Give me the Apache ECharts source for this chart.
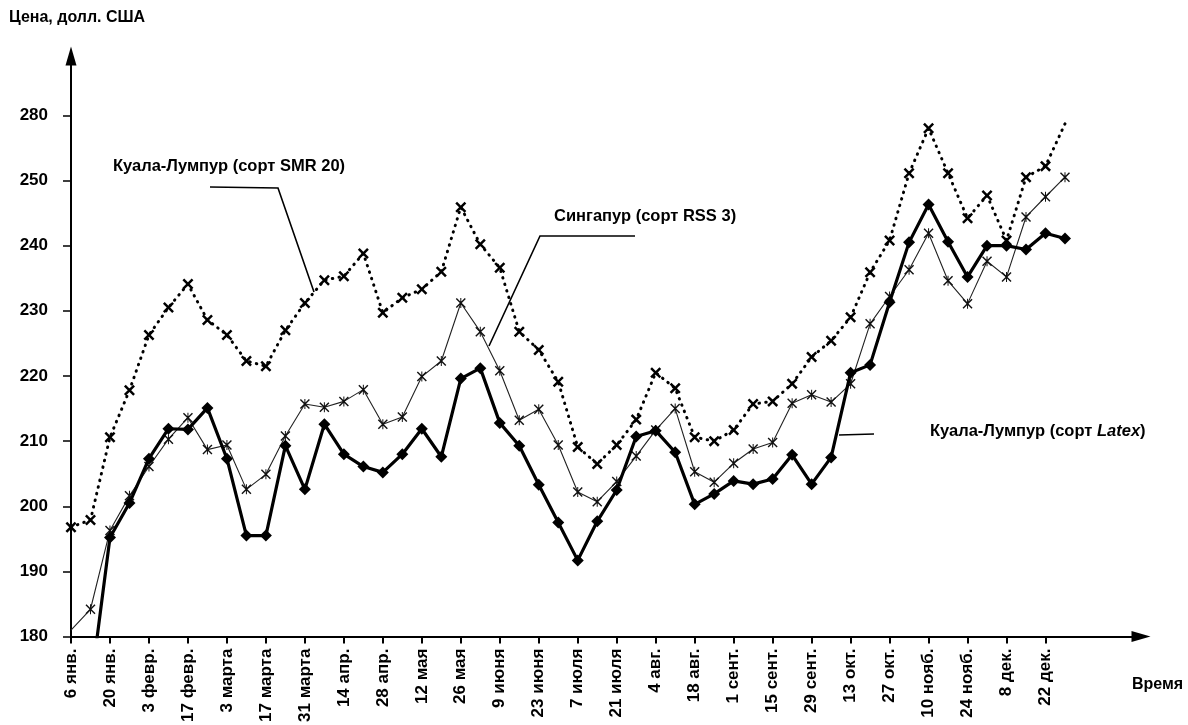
<!DOCTYPE html>
<html>
<head>
<meta charset="utf-8">
<script src="https://cdn.jsdelivr.net/npm/echarts@6/dist/echarts.min.js"></script>
<style>
html,body{margin:0;padding:0;background:#fff;}
#chart{width:1188px;height:725px;}
</style>
</head>
<body>
<div id="chart"></div>
<script>
// Weekly dates (every second one is labelled on the axis)
const weeks = ['6 янв.','13 янв.','20 янв.','27 янв.','3 февр.','10 февр.','17 февр.','24 февр.',
  '3 марта','10 марта','17 марта','24 марта','31 марта','7 апр.','14 апр.','21 апр.','28 апр.',
  '5 мая','12 мая','19 мая','26 мая','2 июня','9 июня','16 июня','23 июня','30 июня',
  '7 июля','14 июля','21 июля','28 июля','4 авг.','11 авг.','18 авг.','25 авг.',
  '1 сент.','8 сент.','15 сент.','22 сент.','29 сент.','6 окт.','13 окт.','20 окт.','27 окт.',
  '3 нояб.','10 нояб.','17 нояб.','24 нояб.','1 дек.','8 дек.','15 дек.','22 дек.','29 дек.'];

// Куала-Лумпур (сорт SMR 20)
const smr20 = [196.8,197.9,210.6,217.8,226.3,230.5,234.1,228.6,226.3,222.3,221.5,227.0,231.2,234.7,235.3,238.8,
  229.7,232.0,233.3,236.0,245.9,240.2,236.6,226.8,224.0,219.1,209.1,206.5,209.4,213.3,220.5,218.1,
  210.6,210.0,211.7,215.7,216.1,218.8,222.9,225.4,229.0,235.9,240.8,251.1,258.0,251.1,244.2,247.7,
  240.8,250.5,252.2,258.7];

// Сингапур (сорт RSS 3)
const rss3 = [181.0,184.2,196.3,201.6,206.1,210.3,213.6,208.7,209.4,202.6,204.9,210.8,215.7,215.2,216.1,217.9,
  212.6,213.7,219.9,222.3,231.2,226.8,220.8,213.2,214.9,209.4,202.2,200.7,203.8,207.7,211.7,215.0,
  205.3,203.7,206.6,208.8,209.8,215.8,217.1,216.0,218.8,228.0,232.2,236.3,241.9,234.6,231.1,237.6,
  235.2,244.4,247.5,250.5];

// Куала-Лумпур (сорт Latex)
const latex = [null,172.0,195.2,200.5,207.3,211.9,211.8,215.1,207.3,195.5,195.5,209.3,202.6,212.6,208.0,206.1,
  205.2,208.0,211.9,207.6,219.6,221.2,212.8,209.3,203.3,197.5,191.7,197.7,202.5,210.7,211.6,208.3,
  200.3,201.9,203.9,203.4,204.2,207.9,203.4,207.5,220.5,221.7,231.3,240.5,246.3,240.6,235.2,240.0,
  240.0,239.4,241.9,241.1];

const yTickValues = [180,190,200,210,220,230,240,250,260];
const yTickLabels = ['180','190','200','210','220','230','240','250','280'];

// points drawn without a marker (line ends)
const unmarked = { smr: [51], rss: [0], latex: [1] };

const FONT = 'Liberation Sans';
const xTicks = weeks.map((w, i) => i).filter(i => i % 2 === 0);

function build(arr, skip) {
  const out = [];
  arr.forEach((v, i) => {
    if (v === null) return;
    if (skip.indexOf(i) >= 0) out.push({ value: [i, v], symbol: 'none' });
    else out.push([i, v]);
  });
  return out;
}

const crossPath = 'path://M0,1.6 L1.6,0 L5,3.4 L8.4,0 L10,1.6 L6.6,5 L10,8.4 L8.4,10 L5,6.6 L1.6,10 L0,8.4 L3.4,5 Z';
const starPath = 'path://M0,1 L1,0 L5,4 L9,0 L10,1 L6,5 L10,9 L9,10 L5,6 L1,10 L0,9 L4,5 Z M4.5,0 L5.5,0 L5.5,10 L4.5,10 Z';

const chart = echarts.init(document.getElementById('chart'), null, { renderer: 'canvas' });
chart.setOption({
  animation: false,
  backgroundColor: '#fff',
  textStyle: { fontFamily: FONT },
  grid: { left: 71, right: 47, top: 56, bottom: 88, containLabel: false },
  xAxis: {
    type: 'value', min: 0, max: 54.9,
    axisLine: { show: true, lineStyle: { color: '#000', width: 2 }, symbol: ['none', 'triangle'], symbolSize: [11, 19] },
    axisTick: { show: true, customValues: xTicks, length: 7, lineStyle: { color: '#000', width: 2 } },
    axisLabel: {
      customValues: xTicks, rotate: 90, margin: 12, color: '#000', fontSize: 17, fontWeight: 'bold', fontFamily: FONT,
      formatter: v => weeks[Math.round(v)]
    },
    splitLine: { show: false }
  },
  yAxis: {
    type: 'value', min: 180, max: 269.1,
    axisLine: { show: true, lineStyle: { color: '#000', width: 2 }, symbol: ['none', 'triangle'], symbolSize: [11, 19] },
    axisTick: { show: true, customValues: yTickValues, length: 8, lineStyle: { color: '#000', width: 1.5 } },
    axisLabel: {
      customValues: yTickValues, margin: 23, color: '#000', fontSize: 17, fontWeight: 'bold', fontFamily: FONT,
      formatter: v => yTickLabels[yTickValues.indexOf(v)]
    },
    splitLine: { show: false }
  },
  series: [
    {
      name: 'Куала-Лумпур (сорт SMR 20)', type: 'line', data: build(smr20, unmarked.smr), clip: true,
      lineStyle: { color: '#000', width: 3, type: [0.5, 6.3], cap: 'round' },
      symbol: crossPath, symbolSize: 11, itemStyle: { color: '#000' }, z: 3
    },
    {
      name: 'Сингапур (сорт RSS 3)', type: 'line', data: build(rss3, unmarked.rss), clip: true,
      lineStyle: { color: '#222', width: 1.1 },
      symbol: starPath, symbolSize: 10, itemStyle: { color: '#111' }, z: 4
    },
    {
      name: 'Куала-Лумпур (сорт Latex)', type: 'line', data: build(latex, unmarked.latex), clip: true,
      lineStyle: { color: '#000', width: 3.2 },
      symbol: 'diamond', symbolSize: 12, itemStyle: { color: '#000' }, z: 5
    }
  ],
  graphic: [
    { type: 'text', left: 9, top: 10, style: { text: 'Цена, долл. США', font: 'bold 16px "Liberation Sans"', fill: '#000' } },
    { type: 'text', left: 1132, top: 677, style: { text: 'Время', font: 'bold 16px "Liberation Sans"', fill: '#000' } },
    { type: 'text', left: 113, top: 158, style: { text: 'Куала-Лумпур (сорт SMR 20)', font: 'bold 16.5px "Liberation Sans"', fill: '#000' } },
    { type: 'text', left: 554, top: 208, style: { text: 'Сингапур (сорт RSS 3)', font: 'bold 16.5px "Liberation Sans"', fill: '#000' } },
    { type: 'text', left: 930, top: 423, style: {
        text: 'Куала-Лумпур (сорт {i|Latex})', font: 'bold 16.5px "Liberation Sans"', fill: '#000',
        rich: { i: { fontStyle: 'italic', fontWeight: 'bold', fontSize: 16.5, fontFamily: FONT, fill: '#000' } } } },
    { type: 'polyline', shape: { points: [[210, 187], [278, 188], [314, 292]] }, style: { stroke: '#000', lineWidth: 1.6, fill: null }, z: 10 },
    { type: 'polyline', shape: { points: [[635, 236], [540, 236], [489, 346]] }, style: { stroke: '#000', lineWidth: 1.6, fill: null }, z: 10 },
    { type: 'polyline', shape: { points: [[839, 435], [874, 434]] }, style: { stroke: '#000', lineWidth: 1.4, fill: null }, z: 10 }
  ]
});
</script>
</body>
</html>
